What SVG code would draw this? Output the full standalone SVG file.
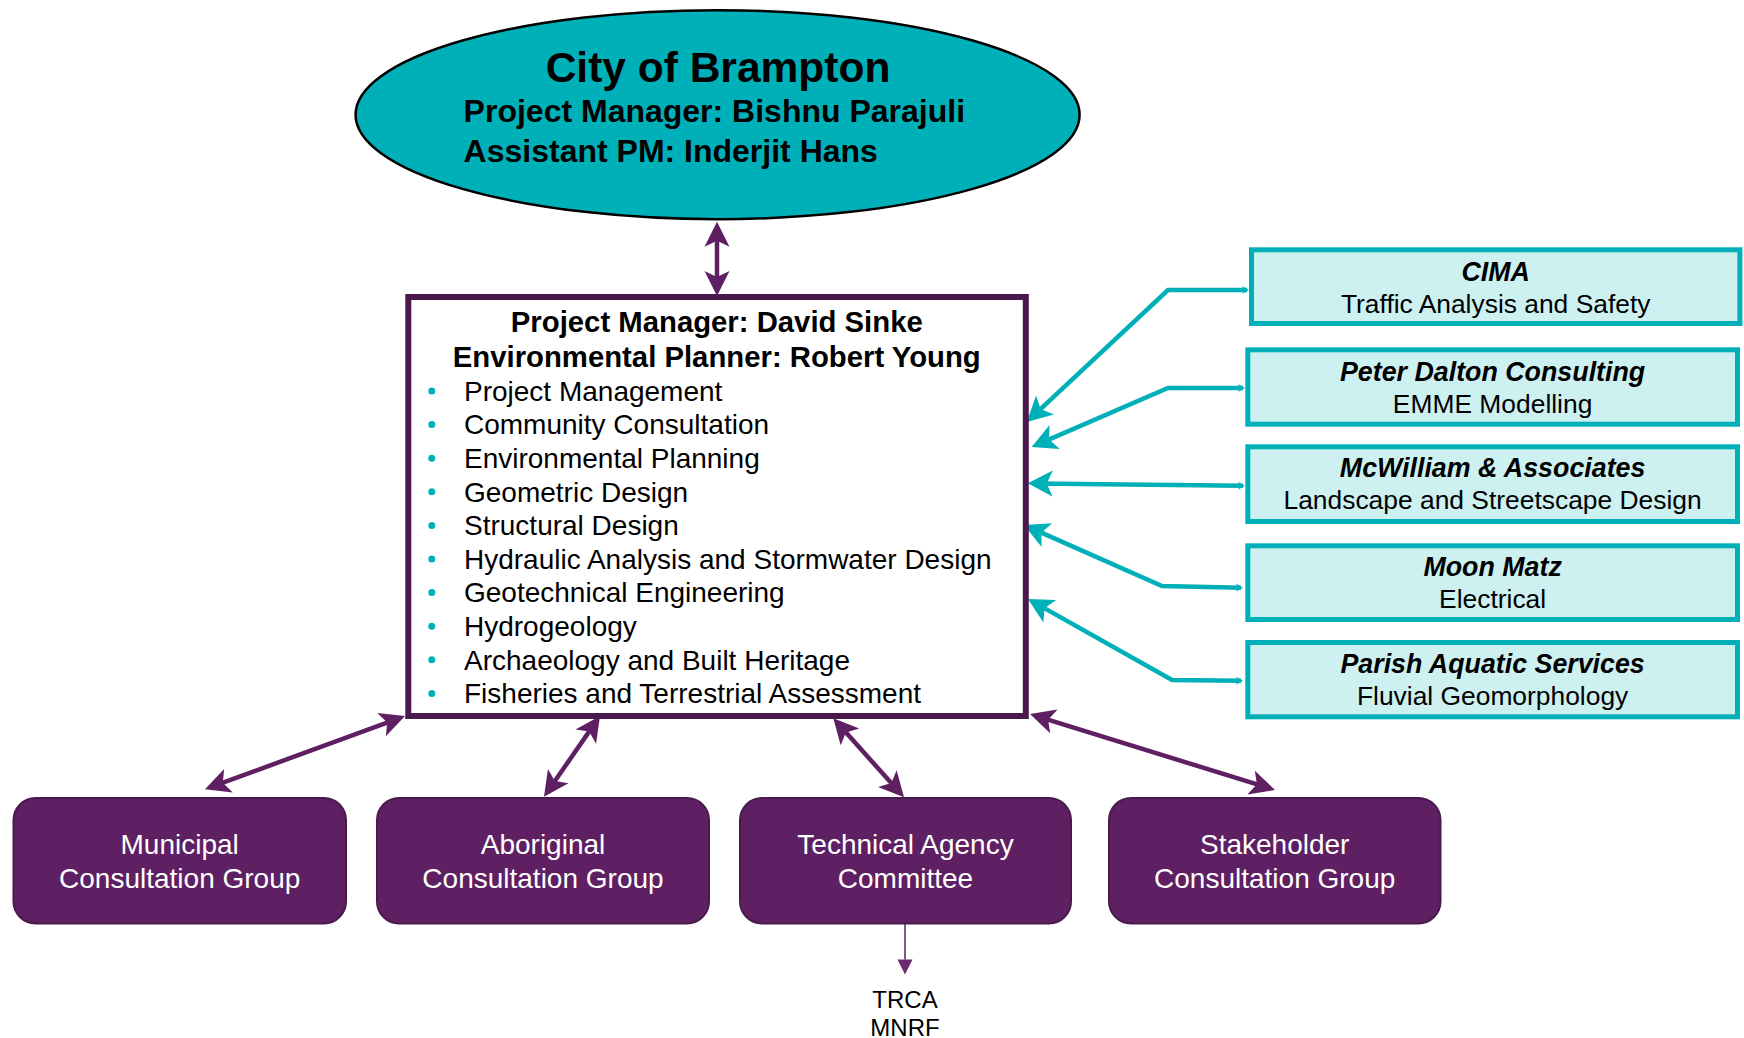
<svg xmlns="http://www.w3.org/2000/svg" width="1744" height="1038" viewBox="0 0 1744 1038">
<style>
text{font-family:"Liberation Sans",Arial,sans-serif;}
.hdr{font-weight:bold;fill:#000;}
.item{font-size:28px;fill:#000;}
.bul{fill:#00B0B9;}
.pbox{fill:#CDF0F0;stroke:#00B0B9;stroke-width:5;}
.ptitle{font-size:26.8px;font-weight:bold;font-style:italic;fill:#000;text-anchor:middle;}
.psub{font-size:26.4px;fill:#000;text-anchor:middle;}
.gbox{fill:#5E2062;stroke:#491A4C;stroke-width:2;}
.gtxt{font-size:28px;fill:#fff;text-anchor:middle;}
.parr{fill:none;stroke:#5E2062;stroke-width:4.5;marker-start:url(#pa);marker-end:url(#pa);}
.tarr{fill:none;stroke:#00B0B9;stroke-width:4.5;marker-start:url(#ta);marker-end:url(#ts);}
</style>
<defs>
<marker id="pa" markerUnits="userSpaceOnUse" viewBox="-20 -13 27 26" refX="0" refY="0" markerWidth="27" markerHeight="26" orient="auto-start-reverse" overflow="visible">
<path d="M6,0 L-19,-12.5 L-13,0 L-19,12.5 Z" fill="#5E2062"/>
</marker>
<marker id="ta" markerUnits="userSpaceOnUse" viewBox="-20 -13 27 26" refX="0" refY="0" markerWidth="27" markerHeight="26" orient="auto-start-reverse" overflow="visible">
<path d="M6,0 L-19,-13 L-13,0 L-19,13 Z" fill="#00B0B9"/>
</marker>
<marker id="ts" markerUnits="userSpaceOnUse" viewBox="-6 -5 9 10" refX="0" refY="0" markerWidth="9" markerHeight="10" orient="auto" overflow="visible">
<path d="M2,0 L-5,-4 L-3,0 L-5,4 Z" fill="#00B0B9"/>
</marker>
<marker id="tri" markerUnits="userSpaceOnUse" viewBox="0 -8 15 16" refX="0" refY="0" markerWidth="15" markerHeight="16" orient="auto" overflow="visible">
<path d="M0,-7.5 L15,0 L0,7.5 Z" fill="#6A2A6E"/>
</marker>
</defs>

<g id="connectors">
<line class="parr" x1="717" y1="227.7" x2="717" y2="290"/>
<line class="parr" x1="399.4" y1="718.1" x2="210.6" y2="787.2"/>
<line class="parr" x1="596.6" y1="720.9" x2="547.4" y2="791.8"/>
<line class="parr" x1="837.3" y1="722.8" x2="900" y2="792.8"/>
<line class="parr" x1="1035.7" y1="715.8" x2="1269.3" y2="788.2"/>
<polyline class="tarr" points="1031.1,417.9 1168,290 1247,290"/>
<polyline class="tarr" points="1037.2,444.6 1168,388 1243,388"/>
<polyline class="tarr" points="1033.7,483.4 1243,485.7"/>
<polyline class="tarr" points="1029.5,527.4 1162,586 1241,587.7"/>
<polyline class="tarr" points="1033.2,601.9 1172,680 1241,680.7"/>
<line x1="905" y1="922" x2="905" y2="959.5" stroke="#6A2A6E" stroke-width="1.6" marker-end="url(#tri)"/>
</g>

<g id="city">
<ellipse cx="717.6" cy="114.7" rx="362" ry="104.5" fill="#00B0B9" stroke="#000" stroke-width="2.5"/>
<text class="hdr" x="718" y="81.5" font-size="42.5" text-anchor="middle">City of Brampton</text>
<text class="hdr" x="463.6" y="122.3" font-size="32">Project Manager: Bishnu Parajuli</text>
<text class="hdr" x="463.6" y="161.7" font-size="32">Assistant PM: Inderjit Hans</text>
</g>

<g id="consultant">
<rect x="408.3" y="297" width="617.5" height="419" fill="#fff" stroke="#4A184D" stroke-width="6"/>
<text class="hdr" x="716.8" y="331.7" font-size="29.3" text-anchor="middle">Project Manager: David Sinke</text>
<text class="hdr" x="716.8" y="366.7" font-size="29.3" text-anchor="middle">Environmental Planner: Robert Young</text>
<g>
<circle class="bul" cx="431.8" cy="391" r="3.5"/>
<circle class="bul" cx="431.8" cy="424.6" r="3.5"/>
<circle class="bul" cx="431.8" cy="458.2" r="3.5"/>
<circle class="bul" cx="431.8" cy="491.8" r="3.5"/>
<circle class="bul" cx="431.8" cy="525.4" r="3.5"/>
<circle class="bul" cx="431.8" cy="559" r="3.5"/>
<circle class="bul" cx="431.8" cy="592.6" r="3.5"/>
<circle class="bul" cx="431.8" cy="626.2" r="3.5"/>
<circle class="bul" cx="431.8" cy="659.8" r="3.5"/>
<circle class="bul" cx="431.8" cy="693.4" r="3.5"/>
</g>
<text class="item" x="464" y="400.7">Project Management</text>
<text class="item" x="464" y="434.3">Community Consultation</text>
<text class="item" x="464" y="467.9">Environmental Planning</text>
<text class="item" x="464" y="501.5">Geometric Design</text>
<text class="item" x="464" y="535.1">Structural Design</text>
<text class="item" x="464" y="568.7">Hydraulic Analysis and Stormwater Design</text>
<text class="item" x="464" y="602.3">Geotechnical Engineering</text>
<text class="item" x="464" y="635.9">Hydrogeology</text>
<text class="item" x="464" y="669.5">Archaeology and Built Heritage</text>
<text class="item" x="464" y="703.1">Fisheries and Terrestrial Assessment</text>
</g>

<g id="cima">
<rect class="pbox" x="1251.5" y="249.8" width="488.4" height="73.7"/>
<text class="ptitle" x="1495.7" y="280.7">CIMA</text>
<text class="psub" x="1495.7" y="312.7">Traffic Analysis and Safety</text>
</g>
<g id="peter-dalton">
<rect class="pbox" x="1247.8" y="349.8" width="489.7" height="74.4"/>
<text class="ptitle" x="1492.6" y="380.7">Peter Dalton Consulting</text>
<text class="psub" x="1492.6" y="412.7">EMME Modelling</text>
</g>
<g id="mcwilliam">
<rect class="pbox" x="1247.8" y="446.8" width="489.7" height="74.7"/>
<text class="ptitle" x="1492.6" y="477.3">McWilliam &amp; Associates</text>
<text class="psub" x="1492.6" y="509.3">Landscape and Streetscape Design</text>
</g>
<g id="moon-matz">
<rect class="pbox" x="1247.8" y="545.8" width="489.7" height="73.7"/>
<text class="ptitle" x="1492.6" y="575.5">Moon Matz</text>
<text class="psub" x="1492.6" y="607.8">Electrical</text>
</g>
<g id="parish">
<rect class="pbox" x="1247.8" y="642.5" width="489.7" height="74.3"/>
<text class="ptitle" x="1492.6" y="672.8">Parish Aquatic Services</text>
<text class="psub" x="1492.6" y="704.5">Fluvial Geomorphology</text>
</g>

<g id="municipal">
<rect class="gbox" x="13.5" y="798" width="332.5" height="125.5" rx="22"/>
<text class="gtxt" x="179.7" y="854">Municipal</text>
<text class="gtxt" x="179.7" y="888">Consultation Group</text>
</g>
<g id="aboriginal">
<rect class="gbox" x="377" y="798" width="332" height="125.5" rx="22"/>
<text class="gtxt" x="543" y="854">Aboriginal</text>
<text class="gtxt" x="543" y="888">Consultation Group</text>
</g>
<g id="technical">
<rect class="gbox" x="740" y="798" width="331" height="125.5" rx="22"/>
<text class="gtxt" x="905.5" y="854">Technical Agency</text>
<text class="gtxt" x="905.5" y="888">Committee</text>
</g>
<g id="stakeholder">
<rect class="gbox" x="1109" y="798" width="331.5" height="125.5" rx="22"/>
<text class="gtxt" x="1274.7" y="854">Stakeholder</text>
<text class="gtxt" x="1274.7" y="888">Consultation Group</text>
</g>

<g id="agencies">
<text x="905" y="1008" font-size="24" text-anchor="middle" fill="#000">TRCA</text>
<text x="905" y="1036" font-size="24" text-anchor="middle" fill="#000">MNRF</text>
</g>
</svg>
